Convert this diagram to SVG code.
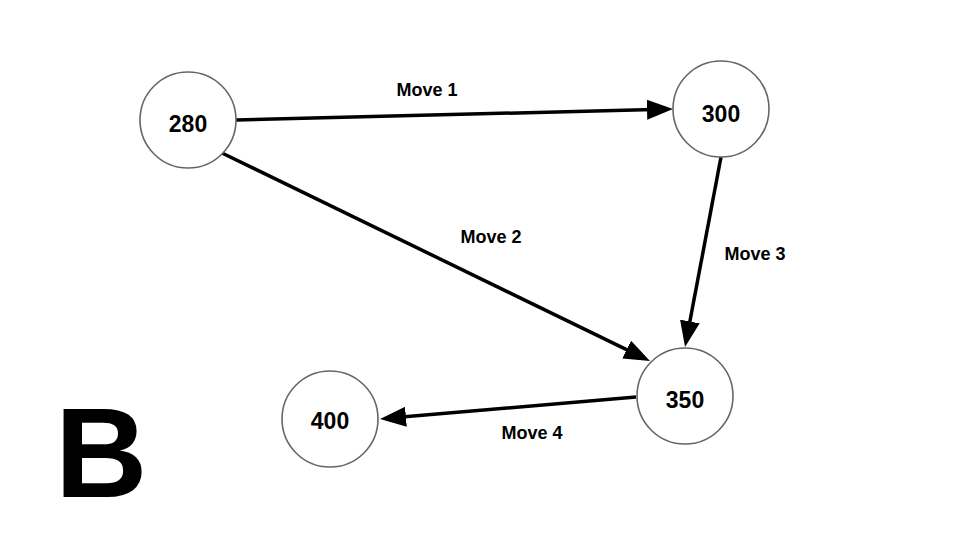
<svg xmlns="http://www.w3.org/2000/svg" width="960" height="540" viewBox="0 0 960 540">
<style>
.node circle{fill:#fff;stroke:#666;stroke-width:1.6}
.node text{font-family:"Liberation Sans",Arial,sans-serif;font-weight:bold;font-size:23px;fill:#000;text-anchor:middle}
.edge{stroke:#000;stroke-width:3.5;fill:none;marker-end:url(#arr)}
.lbl{font-family:"Liberation Sans",Arial,sans-serif;font-weight:bold;font-size:18px;fill:#000;text-anchor:middle}
</style>
<defs>
<marker id="arr" markerUnits="userSpaceOnUse" markerWidth="26" markerHeight="20" refX="16" refY="10" orient="auto" viewBox="0 0 26 20">
<path d="M0,0 L26,10 L0,20 z" fill="#000"/>
</marker>
</defs>
<rect width="960" height="540" fill="#fff"/>
<g id="connectors">
<line class="edge" x1="236" y1="120" x2="663" y2="109.25"/>
<line class="edge" x1="222" y1="153" x2="641" y2="356.6"/>
<line class="edge" x1="721" y1="157" x2="686.9" y2="337.2"/>
<line class="edge" x1="636" y1="397" x2="390" y2="418.1"/>
<text class="lbl" x="427" y="96">Move 1</text>
<text class="lbl" x="491" y="243">Move 2</text>
<text class="lbl" x="755" y="260">Move 3</text>
<text class="lbl" x="532" y="439">Move 4</text>
</g>
<g id="n280" class="node"><circle cx="188" cy="120" r="48"/><text x="188" y="131.5">280</text></g>
<g id="n300" class="node"><circle cx="721" cy="109" r="48"/><text x="721" y="121.5">300</text></g>
<g id="n350" class="node"><circle cx="685" cy="396" r="48"/><text x="685" y="408">350</text></g>
<g id="n400" class="node"><circle cx="330" cy="419" r="48"/><text x="330" y="429">400</text></g>
<text x="55" y="497" font-family="'Liberation Sans',Arial,sans-serif" font-weight="bold" font-size="128" fill="#000">B</text>
</svg>
